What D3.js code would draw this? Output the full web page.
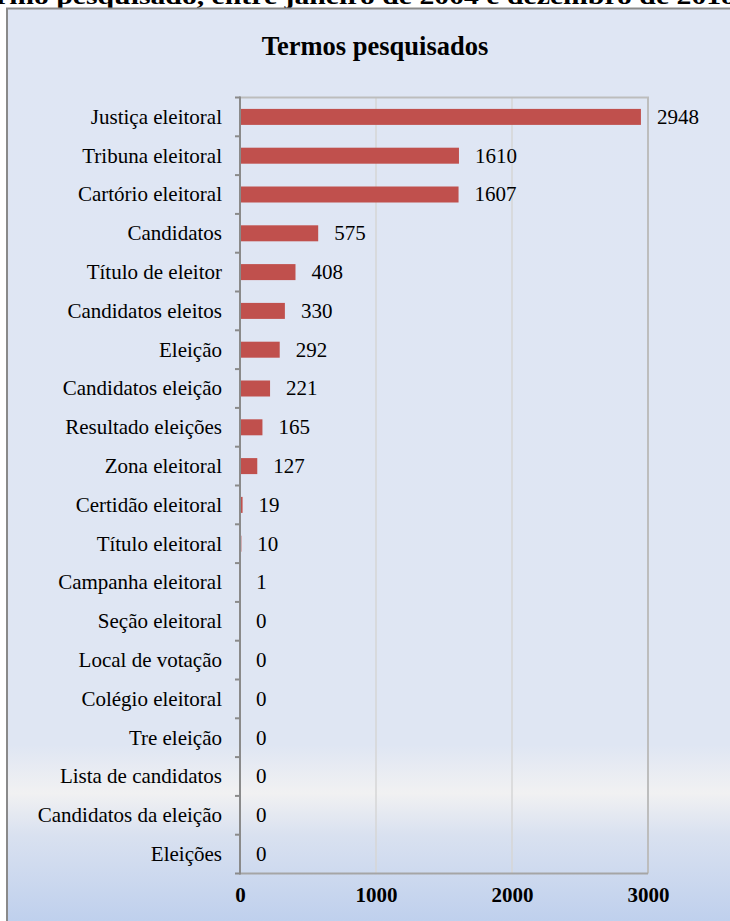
<!DOCTYPE html>
<html><head><meta charset="utf-8">
<script src="https://cdn.jsdelivr.net/npm/d3@7"></script>
<style>html,body{margin:0;padding:0;background:#fff;overflow:hidden}svg{display:block}</style>
</head><body>
<script>
const pageTitle = "rmo pesquisado, entre janeiro de 2004 e dezembro de 2018";
const chartTitle = "Termos pesquisados";
const categories = ["Justiça eleitoral","Tribuna eleitoral","Cartório eleitoral","Candidatos","Título de eleitor","Candidatos eleitos","Eleição","Candidatos eleição","Resultado eleições","Zona eleitoral","Certidão eleitoral","Título eleitoral","Campanha eleitoral","Seção eleitoral","Local de votação","Colégio eleitoral","Tre eleição","Lista de candidatos","Candidatos da eleição","Eleições"];
const values = [2948,1610,1607,575,408,330,292,221,165,127,19,10,1,0,0,0,0,0,0,0];
const xTicks = [0,1000,2000,3000];

const FONT = "'Liberation Serif','Times New Roman',serif";
const W = 730, H = 921;
const svg = d3.select("body").append("svg").attr("width", W).attr("height", H);
const defs = svg.append("defs");
const g = defs.append("linearGradient").attr("id","bg").attr("gradientUnits","userSpaceOnUse")
  .attr("x1",0).attr("y1",8).attr("x2",0).attr("y2",921);
[[8,"#dfe6f4"],[745,"#dfe6f3"],[793,"#f1f1f2"],[835,"#d9e1f0"],[921,"#bfd0ed"]].forEach(([o,c])=>{
  g.append("stop").attr("offset",((o-8)/(921-8)*100)+"%").attr("stop-color",c);
});

svg.append("text").attr("x",-4).attr("y",4).attr("font-family",FONT).attr("font-weight","bold")
  .attr("font-size",24).attr("textLength",740).attr("lengthAdjust","spacingAndGlyphs").attr("fill","#000").text(pageTitle);

svg.append("rect").attr("x",7).attr("y",8.5).attr("width",760).attr("height",960)
  .attr("fill","url(#bg)").attr("stroke","#8a8a8a").attr("stroke-width",2);

svg.append("text").attr("x",375).attr("y",55).attr("text-anchor","middle")
  .attr("font-family",FONT).attr("font-weight","bold").attr("font-size",26.5).text(chartTitle);

const x = d3.scaleLinear().domain([0,3000]).range([240,648]);
const y = d3.scaleBand().domain(categories).range([97.5,873.5]);

// gridlines
svg.append("g").selectAll("line").data(xTicks.slice(1,3)).join("line")
  .attr("x1",d=>x(d)).attr("x2",d=>x(d)).attr("y1",y.range()[0]).attr("y2",y.range()[1])
  .attr("stroke","#d6d6d6").attr("stroke-width",1.5);
// plot border top/right
svg.append("path").attr("d",`M${x(0)},${y.range()[0]}H${x(3000)}V${y.range()[1]}`)
  .attr("fill","none").attr("stroke","#bdbdbd").attr("stroke-width",2);

// bars
const bh = 16;
svg.append("g").selectAll("rect").data(values).join("rect")
  .attr("x",x(0)).attr("y",(d,i)=>y(categories[i])+y.bandwidth()/2-bh/2)
  .attr("width",d=>x(d)-x(0)).attr("height",bh).attr("fill","#c0504d");

// value labels
svg.append("g").selectAll("text").data(values).join("text")
  .attr("x",d=>x(d)+16).attr("y",(d,i)=>y(categories[i])+y.bandwidth()/2)
  .attr("dy","0.33em").attr("font-family",FONT).attr("font-size",21).text(d=>d);

// bottom axis line
svg.append("line").attr("x1",x(0)).attr("x2",x(3000)).attr("y1",y.range()[1]).attr("y2",y.range()[1])
  .attr("stroke","#a5a5a5").attr("stroke-width",2);

// y axis
const yAxis = d3.axisLeft(y).tickSize(0).tickPadding(18);
const ya = svg.append("g").attr("transform",`translate(${x(0)},0)`).call(yAxis);
ya.select(".domain").remove();
ya.selectAll("text").attr("font-family",FONT).attr("font-size",21).attr("fill","#000").attr("dy","0.33em");
// axis line and boundary ticks
const bounds = categories.map(c=>y(c)).concat([y.range()[1]]);
svg.append("g").selectAll("line").data(bounds).join("line")
  .attr("x1",x(0)-5).attr("x2",x(0)).attr("y1",d=>d).attr("y2",d=>d)
  .attr("stroke","#8a8a8a").attr("stroke-width",2);
svg.append("line").attr("x1",x(0)).attr("x2",x(0)).attr("y1",y.range()[0]-1).attr("y2",y.range()[1]+1)
  .attr("stroke","#8a8a8a").attr("stroke-width",2);

// x axis labels
const xAxis = d3.axisBottom(x).tickValues(xTicks).tickSize(0).tickPadding(14).tickFormat(d3.format("d"));
const xa = svg.append("g").attr("transform",`translate(0,${y.range()[1]})`).call(xAxis);
xa.select(".domain").remove();
xa.selectAll("text").attr("font-family",FONT).attr("font-weight","bold").attr("font-size",21).attr("fill","#000");
</script>
</body></html>
